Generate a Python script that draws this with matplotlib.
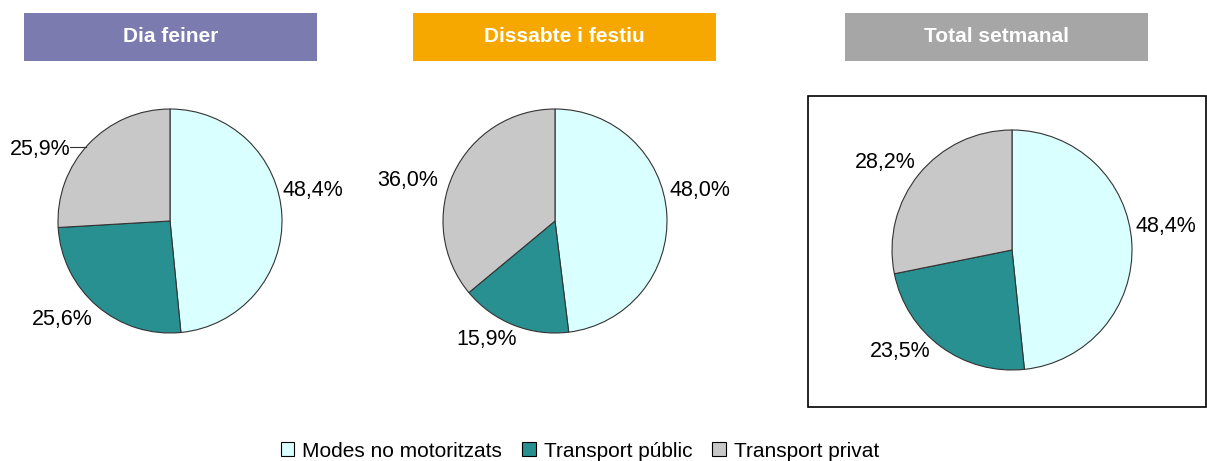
import matplotlib.pyplot as plt
import numpy as np
from matplotlib.patches import Rectangle, Patch

plt.rcParams['font.family'] = ['Liberation Sans', 'DejaVu Sans']

# dades
categories = ['Modes no motoritzats', 'Transport públic', 'Transport privat']
titles = ['Dia feiner', 'Dissabte i festiu', 'Total setmanal']
feiner = [48.4, 25.6, 25.9]
festiu = [48.0, 15.9, 36.0]
total = [48.4, 23.5, 28.2]

colors = ['#D9FFFF', '#289090', '#C8C8C8']
header_colors = ['#7B7BB0', '#F7A800', '#A6A6A6']

# petits desplaçaments de les etiquetes (en radis), com els col·loca Excel
label_nudge = [
    [(0.03, 0.21), (-0.15, 0.07), (-0.25, -0.22)],
    [(0.05, 0.20), (-0.15, 0.10), (-0.18, -0.165)],
    [(0.03, 0.135), (-0.19, 0.16), (-0.09, -0.06)],
]
leader = [[False, False, True], [False] * 3, [False] * 3]

W, H = 1207, 461
fig = plt.figure(figsize=(W / 100, H / 100), dpi=100)


def px_axes(cx, cy, r):
    # eixos quadrats centrats a (cx, cy) en píxels (origen a dalt)
    return fig.add_axes([(cx - r) / W, (H - cy - r) / H, 2 * r / W, 2 * r / H])


def draw_pie(ax, values, nudges, leaders):
    wedges, _ = ax.pie(values, colors=colors, startangle=90, counterclock=False,
                       wedgeprops=dict(edgecolor='#333333', linewidth=0.8))
    for w, v, (dx, dy), lead in zip(wedges, values, nudges, leaders):
        ang = np.deg2rad((w.theta1 + w.theta2) / 2)
        x, y = 1.25 * np.cos(ang) + dx, 1.25 * np.sin(ang) + dy
        txt = f"{v:.1f}%".replace('.', ',')
        t = ax.text(x, y, txt, ha='center', va='center', fontsize=15.5)
        if lead:
            # línia guia des de l'etiqueta fins a la vora del pastís
            xe = -np.sqrt(1 - (y + 0.02) ** 2)
            ax.plot([x + 0.27, xe], [y + 0.02, y + 0.02], color='#333333',
                    linewidth=0.8, clip_on=False)
    ax.set_xlim(-1, 1)
    ax.set_ylim(-1, 1)
    ax.set_aspect('equal')
    ax.axis('off')


pie_geom = [(170, 221, 112), (555, 221, 112), (1012, 250, 120)]
for (cx, cy, r), vals, nd, ld in zip(pie_geom, [feiner, festiu, total], label_nudge, leader):
    draw_pie(px_axes(cx, cy, r), vals, nd, ld)

# marc del total setmanal
fig.patches.append(Rectangle((808 / W, (H - 407) / H), (1206 - 808) / W, (407 - 96) / H,
                             transform=fig.transFigure, fill=False,
                             edgecolor='black', linewidth=1.2))

# capçaleres
header_x = [(24, 317), (413, 716), (845, 1148)]
for (x0, x1), t, c in zip(header_x, titles, header_colors):
    fig.patches.append(Rectangle((x0 / W, (H - 61) / H), (x1 - x0) / W, 48 / H,
                                 transform=fig.transFigure, color=c, linewidth=0))
    fig.text((x0 + x1) / 2 / W, (H - 37) / H, t, ha='center', va='center',
             color='white', fontsize=15, fontweight='bold')

handles = [Patch(facecolor=c, edgecolor='black', linewidth=0.8) for c in colors]
fig.legend(handles, categories, loc='center', bbox_to_anchor=(580 / W, (H - 451) / H),
           ncol=3, frameon=False, fontsize=15, handlelength=0.65, handleheight=0.65,
           handletextpad=0.4, columnspacing=0.95)

fig.savefig('out.png', dpi=100)
